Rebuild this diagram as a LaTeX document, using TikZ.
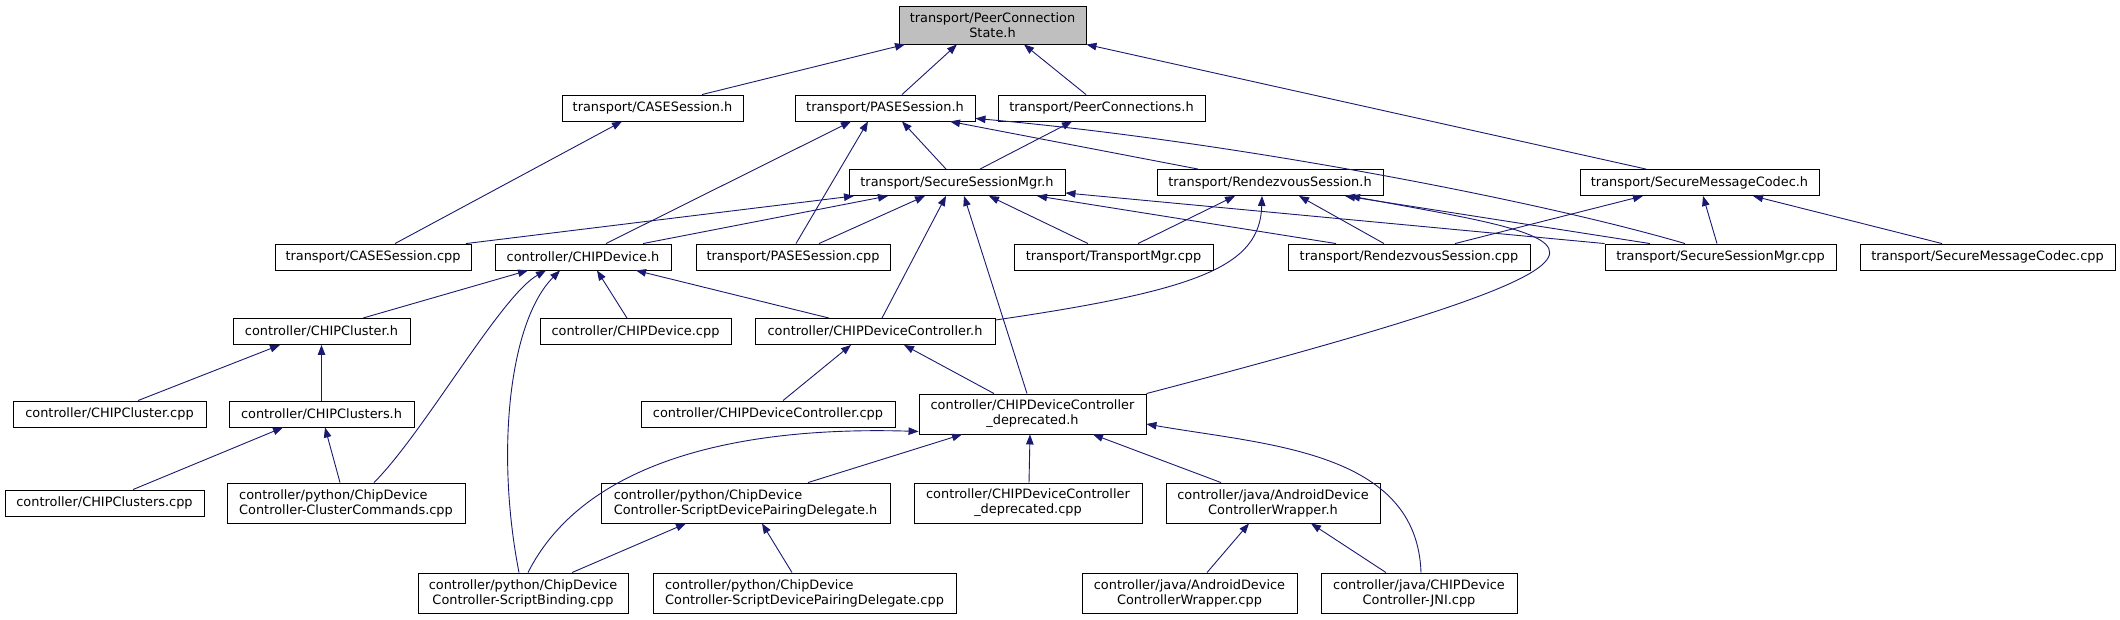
\documentclass[tikz,border=0pt]{standalone}
\usepackage{fontspec}
\setmainfont{DejaVu Sans}
\usepackage{tikz}
\usetikzlibrary{arrows.meta}
\definecolor{edgeblue}{RGB}{25,25,112}
\definecolor{rootgrey}{RGB}{191,191,191}

\begin{document}
\begin{tikzpicture}[
    x=1pt, y=-1pt,
    box/.style={rectangle, draw=black, fill=white, line width=0.9pt, inner sep=0pt, minimum height=26pt, align=center, font=\fontsize{12.9}{15}\selectfont},
    twoline/.style={box, minimum height=40pt},
    arrow/.style={-{Triangle[length=10pt,width=7.5pt]}, line width=0.9pt, draw=edgeblue}
]
\useasboundingbox (0,0) rectangle (2120,619);

\node[box, fill=rootgrey, minimum width=187pt, minimum height=38pt] (root) at (992.5,25) {transport/PeerConnection\\State.h};

\node[box, minimum width=181pt] (cash) at (652.5,108) {transport/CASESession.h};
\node[box, minimum width=180pt] (pash) at (885,108) {transport/PASESession.h};
\node[box, minimum width=207pt] (pch) at (1101.5,108) {transport/PeerConnections.h};

\node[box, minimum width=216pt] (ssmh) at (957,182.5) {transport/SecureSessionMgr.h};
\node[box, minimum width=226pt] (rsh) at (1270,182.5) {transport/RendezvousSession.h};
\node[box, minimum width=239pt] (smch) at (1699.5,182.5) {transport/SecureMessageCodec.h};

\node[box, minimum width=196pt] (cascpp) at (373,257) {transport/CASESession.cpp};
\node[box, minimum width=176pt] (cdh) at (583,257) {controller/CHIPDevice.h};
\node[box, minimum width=194pt] (pascpp) at (793,257) {transport/PASESession.cpp};
\node[box, minimum width=199pt] (tmcpp) at (1113.5,257) {transport/TransportMgr.cpp};
\node[box, minimum width=242pt] (rscpp) at (1409,257) {transport/RendezvousSession.cpp};
\node[box, minimum width=231pt] (ssmcpp) at (1720.5,257) {transport/SecureSessionMgr.cpp};
\node[box, minimum width=255pt] (smccpp) at (1987.5,257) {transport/SecureMessageCodec.cpp};

\node[box, minimum width=177pt] (cch) at (321.5,331.5) {controller/CHIPCluster.h};
\node[box, minimum width=191pt] (cdcpp) at (635.5,331.5) {controller/CHIPDevice.cpp};
\node[box, minimum width=240pt] (cdch) at (875,331.5) {controller/CHIPDeviceController.h};

\node[box, minimum width=193pt] (ccpp) at (109.5,414) {controller/CHIPCluster.cpp};
\node[box, minimum width=185pt] (ccsh) at (321.5,414) {controller/CHIPClusters.h};
\node[box, minimum width=254pt] (cdccpp) at (768,414) {controller/CHIPDeviceController.cpp};
\node[twoline, minimum width=227pt] (cdcdh) at (1032.5,414) {controller/CHIPDeviceController\\\_deprecated.h};

\node[box, minimum width=199pt] (ccscpp) at (104.5,503) {controller/CHIPClusters.cpp};
\node[twoline, align=left, minimum width=238pt] (pyclus) at (346,503) {controller/python/ChipDevice\\Controller-ClusterCommands.cpp};
\node[twoline, align=left, minimum width=289pt] (pypdh) at (745.5,503) {controller/python/ChipDevice\\Controller-ScriptDevicePairingDelegate.h};
\node[twoline, minimum width=228pt] (cdcdcpp) at (1028,503) {controller/CHIPDeviceController\\\_deprecated.cpp};
\node[twoline, minimum width=214pt] (awh) at (1273,503) {controller/java/AndroidDevice\\ControllerWrapper.h};

\node[twoline, minimum width=210pt] (pysb) at (523,593) {controller/python/ChipDevice\\Controller-ScriptBinding.cpp};
\node[twoline, align=left, minimum width=303pt] (pypdcpp) at (804.5,593) {controller/python/ChipDevice\\Controller-ScriptDevicePairingDelegate.cpp};
\node[twoline, minimum width=215pt] (awcpp) at (1189.5,593) {controller/java/AndroidDevice\\ControllerWrapper.cpp};
\node[twoline, minimum width=196pt] (jni) at (1419,593) {controller/java/CHIPDevice\\Controller-JNI.cpp};

\draw[arrow] ([xshift=49.5]cash.north) -- ([xshift=-87.5]root.south);
\draw[arrow] ([xshift=17]pash.north) -- ([xshift=-35.5]root.south);
\draw[arrow] ([xshift=-15.5]pch.north) -- ([xshift=31.5]root.south);
\draw[arrow] ([xshift=-53.5]smch.north) -- (root.south east);
\draw[arrow] ([xshift=22]cascpp.north) -- ([xshift=-30.5]cash.south);
\draw[arrow] ([xshift=93]cascpp.north) -- ([xshift=-103]ssmh.south);
\draw[arrow] ([xshift=23]cdh.north) -- ([xshift=-34]pash.south);
\draw[arrow] ([xshift=60]cdh.north) -- ([xshift=-69]ssmh.south);
\draw[arrow] ([xshift=3]pascpp.north) -- ([xshift=-17]pash.south);
\draw[arrow] ([xshift=26]pascpp.north) -- ([xshift=-32]ssmh.south);
\draw[arrow] ([xshift=-11]ssmh.north) -- ([xshift=17]pash.south);
\draw[arrow] ([xshift=23]ssmh.north) -- ([xshift=-29.5]pch.south);
\draw[arrow] ([xshift=-72]rsh.north) -- ([xshift=65]pash.south);
\draw[arrow] ([xshift=-35.5]ssmcpp.north) .. controls +(-150,-44) and +(250,22) .. ([yshift=3]pash.south east);
\draw[arrow] ([xshift=-70.5]ssmcpp.north) -- ([xshift=75]rsh.south);
\draw[arrow] (ssmcpp.north west) -- ([yshift=3]ssmh.south east);
\draw[arrow] ([xshift=-3.5]ssmcpp.north) -- ([xshift=3.5]smch.south);
\draw[arrow] ([xshift=7]cdch.north) -- ([xshift=-11]ssmh.south);
\draw[arrow] ([xshift=-5.5]cdcdh.north) -- ([xshift=7]ssmh.south);
\draw[arrow] ([xshift=-25.5]tmcpp.north) -- ([xshift=32]ssmh.south);
\draw[arrow] ([xshift=-73]rscpp.north) -- ([xshift=80]ssmh.south);
\draw[arrow] ([xshift=24.5]tmcpp.north) -- ([xshift=-35]rsh.south);
\draw[arrow] ([yshift=11.5]cdch.east) .. controls +(205,-30) and +(-2,70) .. ([xshift=-8]rsh.south);
\draw[arrow] ([xshift=-25]rscpp.north) -- ([xshift=29]rsh.south);
\draw[arrow] (cdcdh.north east) .. controls +(554,-145) and +(243,45) .. ([xshift=80]rsh.south);
\draw[arrow] ([xshift=-46]cdch.north) -- ([xshift=53]cdh.south);
\draw[arrow] ([xshift=41.5]cch.north) -- ([xshift=-55]cdh.south);
\draw[arrow] ([xshift=28]pyclus.north) .. controls +(50,-50) and +(-45,25) .. ([xshift=-37]cdh.south);
\draw[arrow] ([xshift=-4]pysb.north) .. controls +(-24,-123) and +(-50,50) .. ([xshift=-23]cdh.south);
\draw[arrow] ([xshift=-8.5]cdcpp.north) -- ([xshift=14]cdh.south);
\draw[arrow] ([xshift=28.5]ccpp.north) -- ([xshift=-41.5]cch.south);
\draw[arrow] (ccsh.north) -- (cch.south);
\draw[arrow] ([xshift=28.5]ccscpp.north) -- ([xshift=-38.5]ccsh.south);
\draw[arrow] ([xshift=-6]pyclus.north) -- ([xshift=3.5]ccsh.south);
\draw[arrow] ([xshift=15]cdccpp.north) -- ([xshift=-24]cdch.south);
\draw[arrow] ([xshift=-38.5]cdcdh.north) -- ([xshift=29]cdch.south);
\draw[arrow] ([xshift=5]pysb.north) .. controls +(52,-103) and +(-199,-6) .. ([yshift=3]cdcdh.south west);
\draw[arrow] ([xshift=62.5]pypdh.north) -- ([xshift=-70.5]cdcdh.south);
\draw[arrow] ([xshift=1]cdcdcpp.north) -- ([xshift=-2.5]cdcdh.south);
\draw[arrow] ([xshift=-52]awh.north) -- ([xshift=60.5]cdcdh.south);
\draw[arrow] ([xshift=2]jni.north) .. controls +(-4,-122) and +(120,21) .. ([yshift=-10]cdcdh.east);
\draw[arrow] ([xshift=49]pysb.north) -- ([xshift=-59.5]pypdh.south);
\draw[arrow] ([xshift=-12.5]pypdcpp.north) -- ([xshift=16.5]pypdh.south);
\draw[arrow] ([xshift=17.5]awcpp.north) -- ([xshift=-24]awh.south);
\draw[arrow] ([xshift=-33]jni.north) -- ([xshift=38]awh.south);
\draw[arrow] ([xshift=46]rscpp.north) -- ([xshift=-56.5]smch.south);
\draw[arrow] ([xshift=-45.5]smccpp.north) -- ([xshift=53.5]smch.south);
\end{tikzpicture}
\end{document}
